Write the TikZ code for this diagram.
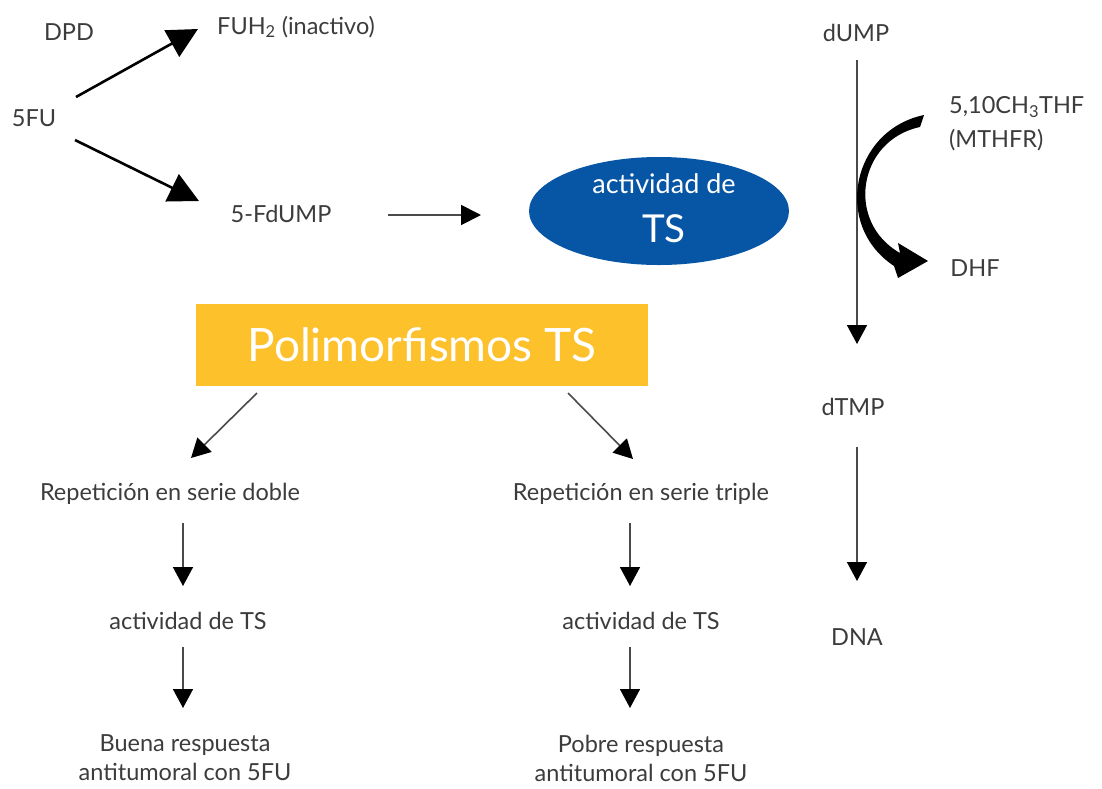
\documentclass[tikz,border=0pt]{standalone}
\usepackage{fontspec}
\setmainfont{Lato}
\usetikzlibrary{arrows.meta,shapes.geometric}
\definecolor{txtgray}{HTML}{3C3C3C}
\definecolor{tsblue}{HTML}{0756A6}
\definecolor{tsyellow}{HTML}{FCC12B}
\definecolor{linegray}{HTML}{4A4A4A}
\begin{document}
\begin{tikzpicture}[x=1pt,y=-1pt,
  lbl/.style={text=txtgray,font=\fontsize{23.5}{29}\selectfont,inner sep=0pt,align=center},
  bigarrow/.style={draw=black,line width=2.6pt,-{Triangle[length=30pt,width=30pt]}},
  thinarrow/.style={draw=linegray,line width=1.6pt,-{Triangle[length=19pt,width=20pt,color=black]}},
  medarrow/.style={draw=linegray,line width=1.8pt,-{Triangle[length=20pt,width=20pt,color=black]}}]
\useasboundingbox (0,0) rectangle (1102,788);
\fill[white] (0,0) rectangle (1102,788);

% left reaction
\node[lbl] (dpd) at (69,32) {DPD};
\node[lbl,anchor=west] (fuh) at (217,27) {FUH\textsubscript{2} (inactivo)};
\node[lbl] (fu) at (34,118) {5FU};
\node[lbl] (fdump) at (281,214) {5-FdUMP};
\coordinate (a1s) at (76,97);
\coordinate (a1e) at (198,29);
\coordinate (a2s) at (75,140);
\coordinate (a2e) at (199,201);
\draw[bigarrow] (a1s) -- (a1e);
\draw[bigarrow] (a2s) -- (a2e);

% ellipse
\node[ellipse,fill=tsblue,minimum width=260pt,minimum height=108pt,inner sep=0pt] (ts) at (659,211) {};
\node[text=white,font=\fontsize{27}{30}\selectfont,inner sep=0pt] (tsa) at (664,184) {actividad de};
\node[text=white,font=\fontsize{38.5}{42}\selectfont,inner sep=0pt] (tsb) at (664,229) {TS};
\coordinate (a3s) at (388,215);
\coordinate (a3e) at (481,215);
\draw[medarrow] (a3s) -- (a3e);

% right pathway
\node[lbl] (dump) at (856,33) {dUMP};
\node[lbl,anchor=west] (thf) at (949,107) {5,10CH\textsubscript{3}THF};
\node[lbl,anchor=west] (mthfr) at (949,140) {(MTHFR)};
\node[lbl] (dhf) at (975,268) {DHF};
\node[lbl] (dtmp) at (853,407) {dTMP};
\node[lbl] (dna) at (857,637) {DNA};
\coordinate (v1s) at (857,60);
\coordinate (v1e) at (857,344);
\coordinate (v2s) at (857,447);
\coordinate (v2e) at (857,581);
\draw[thinarrow] (v1s) -- (v1e);
\draw[thinarrow] (v2s) -- (v2e);
% curved arrow
\fill[black] (924,115) .. controls (852,130) and (832,225) .. (894,266)
  -- (898,278) -- (928,261) -- (898,243) -- (900,253)
  .. controls (845,222) and (858,140) .. (920,127) -- cycle;

% polymorphism box
\node[fill=tsyellow,minimum width=452pt,minimum height=82pt,inner sep=0pt,
  text=white,font=\fontsize{46}{50}\selectfont] (poly) at (422,345) {Polimorfismos TS};

\coordinate (d1s) at (257,393);
\coordinate (d1e) at (191,458);
\coordinate (d2s) at (568,393);
\coordinate (d2e) at (633,459);
\draw[thinarrow] (d1s) -- (d1e);
\draw[thinarrow] (d2s) -- (d2e);

\node[lbl] (rd) at (170,494) {Repetición en serie doble};
\node[lbl] (rt) at (641,494) {Repetición en serie triple};
\node[lbl] (ad) at (188,621) {actividad de TS};
\node[lbl] (at) at (641,621) {actividad de TS};
\node[lbl] (bd) at (185,758) {Buena respuesta\\antitumoral con 5FU};
\node[lbl] (bt) at (641,758) {Pobre respuesta\\antitumoral con 5FU};

\coordinate (l1s) at (183,523);
\coordinate (l1e) at (183,586);
\coordinate (l2s) at (183,647);
\coordinate (l2e) at (183,708);
\coordinate (r1s) at (630,523);
\coordinate (r1e) at (630,586);
\coordinate (r2s) at (630,647);
\coordinate (r2e) at (630,708);
\draw[thinarrow] (l1s) -- (l1e);
\draw[thinarrow] (l2s) -- (l2e);
\draw[thinarrow] (r1s) -- (r1e);
\draw[thinarrow] (r2s) -- (r2e);
\end{tikzpicture}
\end{document}
